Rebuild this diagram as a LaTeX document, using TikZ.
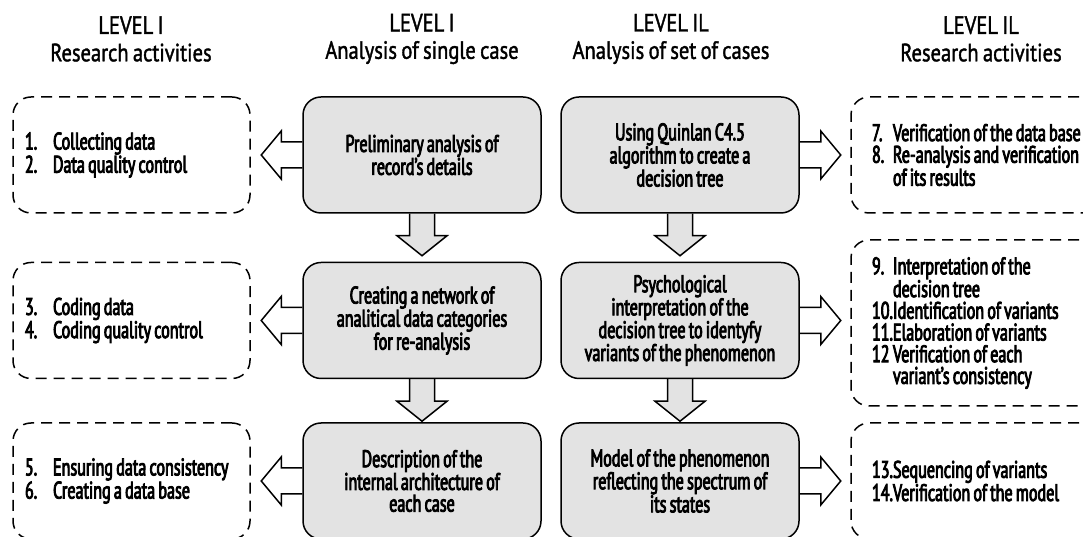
\documentclass[tikz,border=0pt]{standalone}
\usepackage{fontspec}
\setmainfont{PT Sans}[FakeStretch=0.67, FakeBold=3.5, WordSpace=0.75]
\newfontfamily\headfont{PT Sans}[FakeStretch=0.82, FakeBold=1.5, WordSpace=0.8]
\usetikzlibrary{calc, backgrounds}
\definecolor{boxgray}{HTML}{E3E3E3}
\newlength{\itemw}
\newcommand{\itemno}[1]{\makebox[\itemw][l]{#1}}
\tikzset{
  heading/.style={align=center, font=\headfont\fontsize{25}{27.4}\selectfont},
  stepbox/.style={draw, line width=1.5pt, rounded corners=18pt, fill=boxgray,
    minimum width=238pt, minimum height=116pt, inner sep=0pt, align=center,
    font=\fontsize{24}{21.7}\selectfont},
  actbox/.style={draw, line width=1.5pt, rounded corners=18pt, dash pattern=on 11pt off 7pt,
    minimum height=116pt, align=flush left, font=\fontsize{24}{21.7}\selectfont},
  actleft/.style={actbox, text width=213pt, inner xsep=12pt,
    execute at begin node={\setlength{\itemw}{28pt}}},
  actright/.style={actbox, text width=240pt, inner xsep=21pt,
    execute at begin node={\setlength{\itemw}{21pt}}},
  sidearrow/.style={draw, line width=1.5pt, fill=white},
  downarrow/.style={draw, line width=1.5pt, fill=boxgray},
}

\begin{document}
\begin{tikzpicture}[x=1pt,y=1pt]
\useasboundingbox (0,0) rectangle (1083,537);

% column headings
\node[heading] (head1) at (131,498) {LEVEL I\\Research activities};
\node[heading] (head2) at (422,498) {LEVEL I\\Analysis of single case};
\node[heading] (head3) at (671,498) {LEVEL IL\\Analysis of set of cases};
\node[heading] (head4) at (981,498) {LEVEL IL\\Research activities};

% level I: single case
\node[stepbox] (single1) at (422,382) {Preliminary analysis of\\record's details};
\node[stepbox] (single2) at (422,216.5) {Creating a network of\\analitical data categories\\for re-analysis};
\node[stepbox] (single3) at (422,56) {Description of the\\internal architecture of\\each case};

% level IL: set of cases
\node[stepbox] (set1) at (680,382) {Using Quinlan C4.5\\algorithm to create a\\decision tree};
\node[stepbox] (set2) at (680,216.5) {Psychological\\interpretation of the\\decision tree to identyfy\\variants of the phenomenon};
\node[stepbox] (set3) at (680,56) {Model of the phenomenon\\reflecting the spectrum of\\its states};

% research activities, level I
\node[actleft] (act1) at (131.5,382) {\itemno{1.}Collecting data\\\itemno{2.}Data quality control};
\node[actleft] (act2) at (131.5,216.5) {\itemno{3.}Coding data\\\itemno{4.}Coding quality control};
\node[actleft] (act3) at (131.5,56) {\itemno{5.}Ensuring data consistency\\\itemno{6.}Creating a data base};

% research activities, level IL
\node[actright] (res1) at (992,382) {\itemno{7.}Verification of the data base\\\itemno{8.}Re-analysis and verification\\\itemno{}of its results};
\node[actright, minimum height=166pt] (res2) at (992,214) {\itemno{9.}Interpretation of the\\\itemno{}decision tree\\\itemno{10.}Identification of variants\\\itemno{11.}Elaboration of variants\\\itemno{12}Verification of each\\\itemno{}variant's consistency};
\node[actright] (res3) at (992,56) {\itemno{13.}Sequencing of variants\\\itemno{14.}Verification of the model};

% block arrows
\begin{scope}[on background layer]
\draw[sidearrow] ($(single1.west)+(0,13)$) -- ++(-21,0) -- ++(0,11) -- ++(-20,-24) -- ++(20,-24) -- ++(0,11) -- ++(21,0);
\draw[sidearrow] ($(single2.west)+(0,13)$) -- ++(-21,0) -- ++(0,11) -- ++(-20,-24) -- ++(20,-24) -- ++(0,11) -- ++(21,0);
\draw[sidearrow] ($(single3.west)+(0,13)$) -- ++(-21,0) -- ++(0,11) -- ++(-20,-24) -- ++(20,-24) -- ++(0,11) -- ++(21,0);
\draw[sidearrow] ($(set1.east)+(0,13)$) -- ++(21,0) -- ++(0,11) -- ++(20,-24) -- ++(-20,-24) -- ++(0,11) -- ++(-21,0);
\draw[sidearrow] ($(set2.east)+(0,13)$) -- ++(21,0) -- ++(0,11) -- ++(20,-24) -- ++(-20,-24) -- ++(0,11) -- ++(-21,0);
\draw[sidearrow] ($(set3.east)+(0,13)$) -- ++(21,0) -- ++(0,11) -- ++(20,-24) -- ++(-20,-24) -- ++(0,11) -- ++(-21,0);
\draw[downarrow] ($(single1.south)+(12.5,0)$) -- ++(0,-22) -- ++(12.5,0) -- ++(-25,-20) -- ++(-25,20) -- ++(12.5,0) -- ++(0,22);
\draw[downarrow] ($(single2.south)+(12.5,0)$) -- ++(0,-22) -- ++(12.5,0) -- ++(-25,-20) -- ++(-25,20) -- ++(12.5,0) -- ++(0,22);
\draw[downarrow] ($(set1.south)+(12.5,0)$) -- ++(0,-22) -- ++(12.5,0) -- ++(-25,-20) -- ++(-25,20) -- ++(12.5,0) -- ++(0,22);
\draw[downarrow] ($(set2.south)+(12.5,0)$) -- ++(0,-22) -- ++(12.5,0) -- ++(-25,-20) -- ++(-25,20) -- ++(12.5,0) -- ++(0,22);
\end{scope}
\end{tikzpicture}
\end{document}
